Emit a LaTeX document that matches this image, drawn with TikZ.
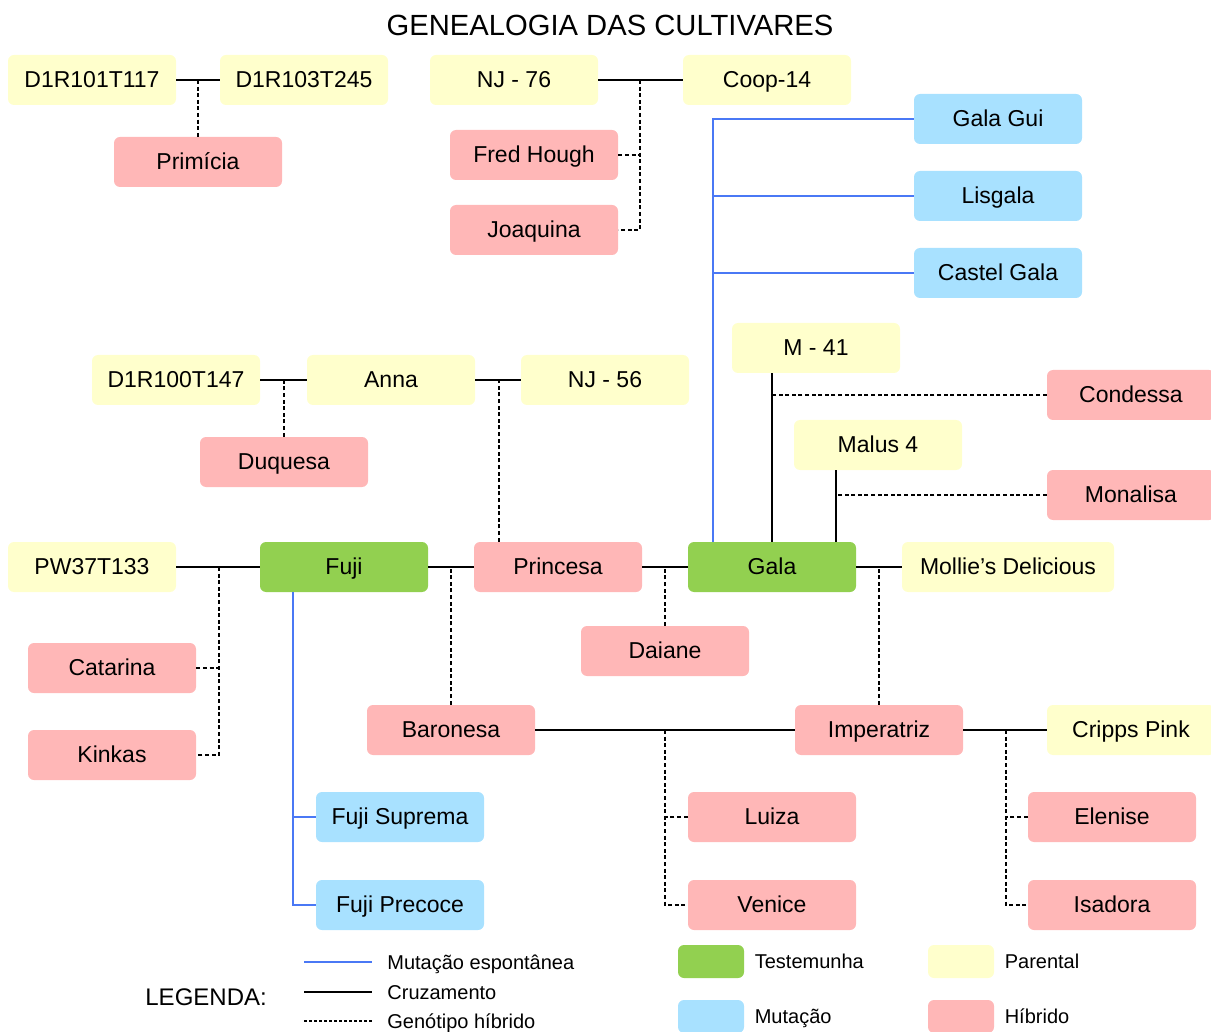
\documentclass[tikz,border=0pt]{standalone}
\usepackage{fontspec}
\setmainfont{Liberation Sans}
\usetikzlibrary{positioning}

\definecolor{corparental}{HTML}{FFFFCC}
\definecolor{corhibrido}{HTML}{FFB7B7}
\definecolor{cortestemunha}{HTML}{92D050}
\definecolor{cormutacao}{HTML}{A8E1FF}
\definecolor{linhamutacao}{HTML}{4A78F5}

\tikzset{
  caixa/.style={rounded corners=3pt, minimum width=84pt, minimum height=25pt,
                inner sep=0pt, text height=8.3pt, text depth=0.5pt,
                font=\fontsize{11.5}{13}\selectfont},
  parental/.style={caixa, fill=corparental},
  hibrido/.style={caixa, fill=corhibrido},
  testemunha/.style={caixa, fill=cortestemunha},
  mutacao/.style={caixa, fill=cormutacao},
  cruz/.style={line width=0.75pt},
  gen/.style={line width=0.55pt, dash pattern=on 2pt off 1.3pt},
  mut/.style={line width=0.75pt, linhamutacao},
  amostra/.style={rounded corners=3pt, minimum width=33pt, minimum height=16.5pt, inner sep=0pt},
  legtexto/.style={anchor=west, inner sep=0pt, text height=7.3pt, text depth=0.2pt,
                   font=\fontsize{10}{12}\selectfont},
}

\begin{document}
\begin{tikzpicture}[x=0.5pt, y=-0.5pt]

    \useasboundingbox (0,0) rectangle (1211,1032);

% Título

    \node[font=\fontsize{14.6}{17}\selectfont] (titulo) at (610,25) {GENEALOGIA DAS CULTIVARES};

% Cultivares

    \node[parental] (d117) at (92,80) {D1R101T117};
    \node[parental] (d245) at (304,80) {D1R103T245};
    \node[hibrido] (primicia) at (198,162) {Primícia};

    \node[parental] (nj76) at (514,80) {NJ - 76};
    \node[parental] (coop) at (767,80) {Coop-14};
    \node[hibrido] (fred) at (534,155) {Fred Hough};
    \node[hibrido] (joaquina) at (534,230) {Joaquina};

    \node[mutacao] (galagui) at (998,119) {Gala Gui};
    \node[mutacao] (lisgala) at (998,196) {Lisgala};
    \node[mutacao] (castel) at (998,273) {Castel Gala};

    \node[parental] (m41) at (816,348) {M - 41};
    \node[hibrido] (condessa) at (1131,395) {Condessa};
    \node[parental] (malus) at (878,445) {Malus 4};
    \node[hibrido] (monalisa) at (1131,495) {Monalisa};

    \node[parental] (d147) at (176,380) {D1R100T147};
    \node[parental] (anna) at (391,380) {Anna};
    \node[parental] (nj56) at (605,380) {NJ - 56};
    \node[hibrido] (duquesa) at (284,462) {Duquesa};

    \node[parental] (pw) at (92,567) {PW37T133};
    \node[testemunha] (fuji) at (344,567) {Fuji};
    \node[hibrido] (princesa) at (558,567) {Princesa};
    \node[testemunha] (gala) at (772,567) {Gala};
    \node[parental, minimum width=106pt] (mollie) at (1008,567) {Mollie’s Delicious};

    \node[hibrido] (catarina) at (112,668) {Catarina};
    \node[hibrido] (kinkas) at (112,755) {Kinkas};
    \node[hibrido] (daiane) at (665,651) {Daiane};

    \node[hibrido] (baronesa) at (451,730) {Baronesa};
    \node[hibrido] (imperatriz) at (879,730) {Imperatriz};
    \node[parental] (cripps) at (1131,730) {Cripps Pink};

    \node[mutacao] (suprema) at (400,817) {Fuji Suprema};
    \node[mutacao] (precoce) at (400,905) {Fuji Precoce};
    \node[hibrido] (luiza) at (772,817) {Luiza};
    \node[hibrido] (venice) at (772,905) {Venice};
    \node[hibrido] (elenise) at (1112,817) {Elenise};
    \node[hibrido] (isadora) at (1112,905) {Isadora};

% Pontos de junção

    \coordinate (jprim) at (198,80);
    \coordinate (jnj) at (640,80);
    \coordinate (jgala) at (713,0);
    \coordinate (jmalus) at (836,0);
    \coordinate (jprinc) at (499,0);
    \coordinate (jcat) at (219,0);
    \coordinate (jfuji) at (293,0);
    \coordinate (jlui) at (665,0);
    \coordinate (jele) at (1006,0);

% Cruzamentos

    \draw[cruz] (d117.east) -- (d245.west);
    \draw[cruz] (nj76.east) -- (coop.west);
    \draw[cruz] (d147.east) -- (anna.west);
    \draw[cruz] (anna.east) -- (nj56.west);
    \draw[cruz] (pw.east) -- (fuji.west);
    \draw[cruz] (fuji.east) -- (princesa.west);
    \draw[cruz] (princesa.east) -- (gala.west);
    \draw[cruz] (gala.east) -- (mollie.west);
    \draw[cruz] (baronesa.east) -- (imperatriz.west);
    \draw[cruz] (imperatriz.east) -- (cripps.west);
    \draw[cruz] (gala.north) -- (gala.north |- m41.south);
    \draw[cruz] (gala.north -| jmalus) -- (malus.south -| jmalus);

% Genótipos híbridos

    \draw[gen] (jprim) -- (primicia.north);
    \draw[gen] (jnj) |- (joaquina.east);
    \draw[gen] (fred.east) -- (fred.east -| jnj);
    \draw[gen] (condessa.west) -- (condessa.west -| gala.north);
    \draw[gen] (monalisa.west) -- (monalisa.west -| jmalus);
    \draw[gen] (duquesa.north) -- (duquesa.north |- anna.west);
    \draw[gen] (princesa.north -| jprinc) -- (anna.east -| jprinc);
    \draw[gen] (pw.east -| jcat) |- (kinkas.east);
    \draw[gen] (catarina.east) -- (catarina.east -| jcat);
    \draw[gen] (baronesa.north) -- (baronesa.north |- fuji.east);
    \draw[gen] (daiane.north) -- (daiane.north |- gala.west);
    \draw[gen] (imperatriz.north) -- (imperatriz.north |- gala.east);
    \draw[gen] (baronesa.east -| jlui) |- (venice.west);
    \draw[gen] (luiza.west) -- (luiza.west -| jlui);
    \draw[gen] (imperatriz.east -| jele) |- (isadora.west);
    \draw[gen] (elenise.west) -- (elenise.west -| jele);

% Mutações

    \draw[mut] (galagui.west) -| (gala.north -| jgala);
    \draw[mut] (lisgala.west) -- (lisgala.west -| jgala);
    \draw[mut] (castel.west) -- (castel.west -| jgala);
    \draw[mut] (fuji.south -| jfuji) |- (precoce.west);
    \draw[mut] (suprema.west) -- (suprema.west -| jfuji);

% Legenda

    \node[anchor=west, inner sep=0pt, font=\fontsize{12}{14}\selectfont] (legenda) at (145,997) {LEGENDA:};

    \coordinate (lmuta) at (304,962);
    \coordinate (lmutb) at (372,962);
    \coordinate (lcruza) at (304,992);
    \coordinate (lcruzb) at (372,992);
    \coordinate (lgena) at (304,1021);
    \coordinate (lgenb) at (372,1021);
    \draw[mut] (lmuta) -- (lmutb);
    \draw[cruz] (lcruza) -- (lcruzb);
    \draw[gen, dash pattern=on 1.5pt off 1pt] (lgena) -- (lgenb);
    \node[legtexto] (tmut) at (387,962) {Mutação espontânea};
    \node[legtexto] (tcruz) at (387,992) {Cruzamento};
    \node[legtexto] (tgen) at (387,1021) {Genótipo híbrido};

    \node[amostra, fill=cortestemunha] (atest) at (711,961.5) {};
    \node[amostra, fill=cormutacao] (amut) at (711,1016.5) {};
    \node[amostra, fill=corparental] (apar) at (961,961.5) {};
    \node[amostra, fill=corhibrido] (ahib) at (961,1016.5) {};
    \node[legtexto, right=5pt of atest] (ttest) {Testemunha};
    \node[legtexto, right=5pt of amut] (tmutacao) {Mutação};
    \node[legtexto, right=5pt of apar] (tpar) {Parental};
    \node[legtexto, right=5pt of ahib] (thib) {Híbrido};

\end{tikzpicture}
\end{document}
